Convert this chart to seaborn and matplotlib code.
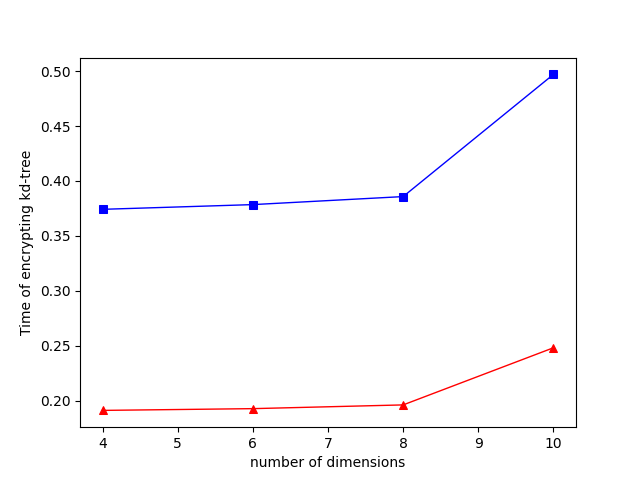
import matplotlib
matplotlib.use('Agg')
import matplotlib.pyplot as plt
import seaborn as sns

# data
dims = [4, 6, 8, 10]
time_blue = [0.3742, 0.3785, 0.3858, 0.4970]
time_red = [0.1912, 0.1928, 0.1962, 0.2482]

fig, ax = plt.subplots(figsize=(6.4, 4.8), dpi=100)

sns.lineplot(x=dims, y=time_blue, ax=ax, color='blue', marker='s',
             markersize=6, markeredgecolor='blue', linewidth=1)
sns.lineplot(x=dims, y=time_red, ax=ax, color='red', marker='^',
             markersize=6, markeredgecolor='red', linewidth=1)

ax.set_xlabel('number of dimensions')
ax.set_ylabel('Time of encrypting kd-tree')

plt.savefig('out.png')
